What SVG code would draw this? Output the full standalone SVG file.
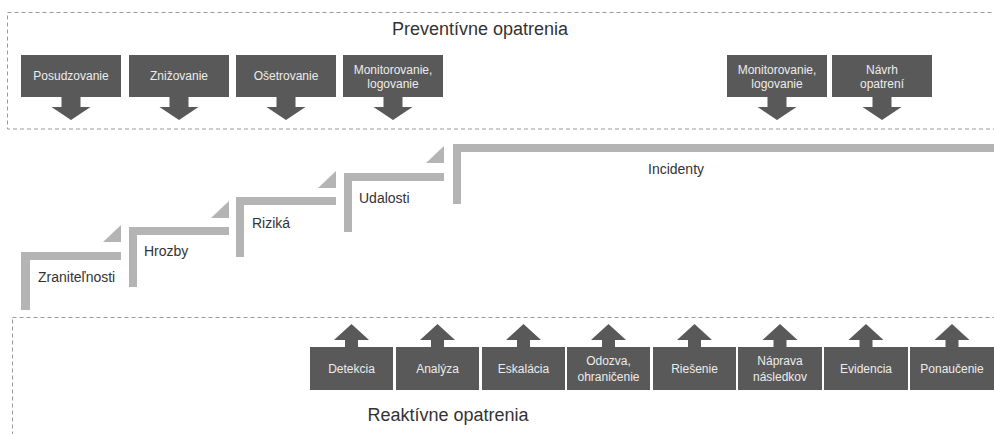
<svg xmlns="http://www.w3.org/2000/svg" width="994" height="434" viewBox="0 0 994 434">
<style>
.frame{fill:none;stroke:#9a9a9a;stroke-width:1;stroke-dasharray:4 3}
.box{fill:#595959}
.arr{fill:#595959}
.bt{font-family:"Liberation Sans",Arial,sans-serif;font-size:12px;fill:#ececec;text-anchor:middle}
.step{fill:#b4b4b4}
.tri{fill:#b4b4b4}
.st{font-family:"Liberation Sans",Arial,sans-serif;font-size:14px;fill:#333}
.title{font-family:"Liberation Sans",Arial,sans-serif;font-size:18px;fill:#333;text-anchor:middle}
</style>
<rect width="994" height="434" fill="#fff"/>
<g id="preventive">
<rect class="frame" x="7.5" y="12.5" width="1000" height="116.5"/>
<text class="title" x="480" y="35">Preventívne opatrenia</text>
</g>
<g id="reactive">
<rect class="frame" x="12.5" y="317.5" width="1000" height="130"/>
<text class="title" x="448" y="421">Reaktívne opatrenia</text>
</g>
<g id="p1"><rect class="box" x="21" y="55" width="100" height="42"/><path class="arr" d="M61.5,97h19v10h10l-19.5,13l-19.5,-13h10z"/><text class="bt" x="71" y="80">Posudzovanie</text></g>
<g id="p2"><rect class="box" x="129" y="55" width="100" height="42"/><path class="arr" d="M169.5,97h19v10h10l-19.5,13l-19.5,-13h10z"/><text class="bt" x="179" y="80">Znižovanie</text></g>
<g id="p3"><rect class="box" x="236" y="55" width="100" height="42"/><path class="arr" d="M276.5,97h19v10h10l-19.5,13l-19.5,-13h10z"/><text class="bt" x="286" y="80">Ošetrovanie</text></g>
<g id="p4"><rect class="box" x="343" y="55" width="100" height="42"/><path class="arr" d="M383.5,97h19v10h10l-19.5,13l-19.5,-13h10z"/><text class="bt" x="393" y="74">Monitorovanie,</text><text class="bt" x="393" y="88">logovanie</text></g>
<g id="p5"><rect class="box" x="727" y="55" width="100" height="42"/><path class="arr" d="M767.5,97h19v10h10l-19.5,13l-19.5,-13h10z"/><text class="bt" x="777" y="74">Monitorovanie,</text><text class="bt" x="777" y="88">logovanie</text></g>
<g id="p6"><rect class="box" x="832" y="55" width="100" height="42"/><path class="arr" d="M872.5,97h19v10h10l-19.5,13l-19.5,-13h10z"/><text class="bt" x="882" y="74">Návrh</text><text class="bt" x="882" y="88">opatrení</text></g>
<g id="s1"><path class="step" d="M21,252H121V260H30V310H21Z"/><path class="tri" d="M103,242H121V225Z"/><text class="st" x="38" y="282">Zraniteľnosti</text></g>
<g id="s2"><path class="step" d="M129,227H229V235H137V287H129Z"/><path class="tri" d="M211,218H229V201Z"/><text class="st" x="144" y="256">Hrozby</text></g>
<g id="s3"><path class="step" d="M236,197H336V205H244V257H236Z"/><path class="tri" d="M318,188H336V171Z"/><text class="st" x="252" y="228">Riziká</text></g>
<g id="s4"><path class="step" d="M344,173H444V181H352V232H344Z"/><path class="tri" d="M426,163H444V146Z"/><text class="st" x="359" y="203">Udalosti</text></g>
<g id="s5"><path class="step" d="M453,144H994V152H461V204H453Z"/><text class="st" x="648" y="174">Incidenty</text></g>
<g id="r1"><rect class="box" x="310" y="347" width="83" height="43"/><path class="arr" d="M345,347v-7h-11l17.5,-16l17.5,16h-11v7z"/><text class="bt" x="351.5" y="373">Detekcia</text></g>
<g id="r2"><rect class="box" x="396" y="347" width="83" height="43"/><path class="arr" d="M431,347v-7h-11l17.5,-16l17.5,16h-11v7z"/><text class="bt" x="437.5" y="373">Analýza</text></g>
<g id="r3"><rect class="box" x="482" y="347" width="83" height="43"/><path class="arr" d="M517,347v-7h-11l17.5,-16l17.5,16h-11v7z"/><text class="bt" x="523.5" y="373">Eskalácia</text></g>
<g id="r4"><rect class="box" x="567" y="347" width="83" height="43"/><path class="arr" d="M602,347v-7h-11l17.5,-16l17.5,16h-11v7z"/><text class="bt" x="608.5" y="365">Odozva,</text><text class="bt" x="608.5" y="381">ohraničenie</text></g>
<g id="r5"><rect class="box" x="653" y="347" width="83" height="43"/><path class="arr" d="M688,347v-7h-11l17.5,-16l17.5,16h-11v7z"/><text class="bt" x="694.5" y="373">Riešenie</text></g>
<g id="r6"><rect class="box" x="738" y="347" width="84" height="43"/><path class="arr" d="M773.5,347v-7h-11l17.5,-16l17.5,16h-11v7z"/><text class="bt" x="780" y="365">Náprava</text><text class="bt" x="780" y="381">následkov</text></g>
<g id="r7"><rect class="box" x="824" y="347" width="84" height="43"/><path class="arr" d="M859.5,347v-7h-11l17.5,-16l17.5,16h-11v7z"/><text class="bt" x="866" y="373">Evidencia</text></g>
<g id="r8"><rect class="box" x="910" y="347" width="84" height="43"/><path class="arr" d="M945.5,347v-7h-11l17.5,-16l17.5,16h-11v7z"/><text class="bt" x="952" y="373">Ponaučenie</text></g>
<g id="connectors"></g>
</svg>
